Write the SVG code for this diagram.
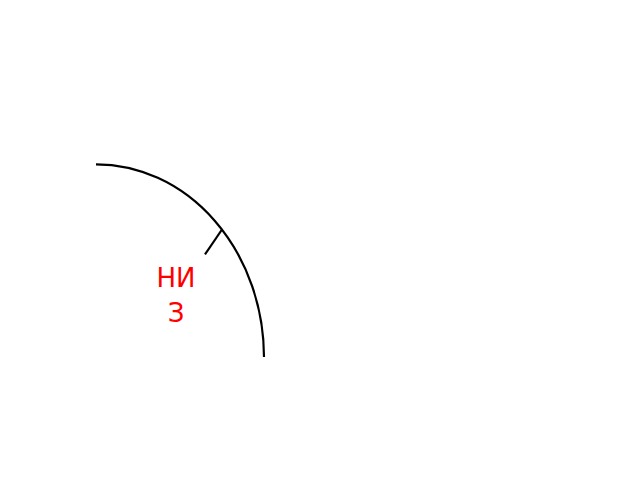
<svg xmlns="http://www.w3.org/2000/svg" width="640" height="480" viewBox="0 0 640 480">
  <style>
    .line { fill: none; stroke: #000; stroke-width: 2.2; }
    .label { font-family: "DejaVu Sans", sans-serif; font-size: 26px; fill: #ff0000; text-anchor: middle; }
  </style>
  <rect width="640" height="480" fill="#fff"/>
  <g id="connectors">
    <path class="line" d="M96,164.3 A168,193 0 0 1 264,357"/>
    <path class="line" d="M222,229.5 L205,254.3"/>
  </g>
  <g id="label-niz">
    <text class="label" x="176" y="287">НИ</text>
    <text class="label" x="176" y="322">З</text>
  </g>
</svg>
